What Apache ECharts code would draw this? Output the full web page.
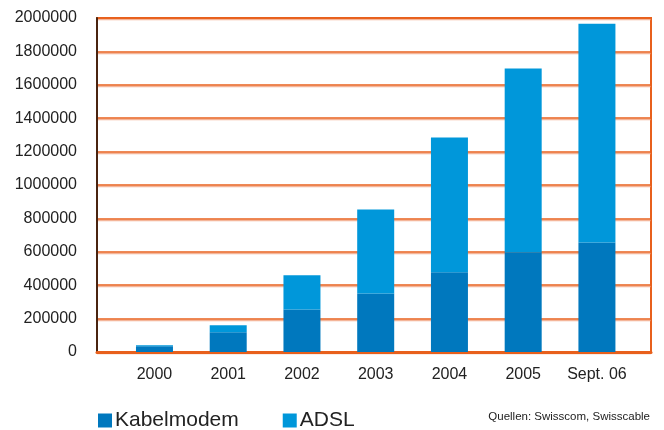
<!DOCTYPE html>
<html>
<head>
<meta charset="utf-8">
<script src="https://cdn.jsdelivr.net/npm/echarts@6/dist/echarts.min.js"></script>
<style>
html,body{margin:0;padding:0;background:#fff;}
#c{width:664px;height:430px;}
</style>
</head>
<body>
<div id="c"></div>
<script>
const categories = ['2000', '2001', '2002', '2003', '2004', '2005', 'Sept. 06'];
const kabelmodem = [35000, 118000, 255000, 351000, 477000, 598000, 656000];
const adsl = [5000, 42000, 204000, 502000, 807000, 1099000, 1310000];
const yTicks = { min: 0, max: 2000000, interval: 200000 };

const orange = '#E8601C';
const font = 'Liberation Sans';
const chart = echarts.init(document.getElementById('c'));
chart.setOption({
  animation: false,
  backgroundColor: '#fff',
  textStyle: { fontFamily: font },
  grid: [
    { left: 97, right: 13, top: 18, bottom: 78, show: true, borderColor: orange, borderWidth: 2, backgroundColor: 'transparent' },
    { left: 117.6, right: 30.2, top: 18, bottom: 78 }
  ],
  legend: {
    left: 93, top: 405,
    itemWidth: 14, itemHeight: 14, itemGap: 44,
    icon: 'rect',
    textStyle: { fontSize: 21, color: '#222', fontFamily: font, padding: [0, 0, 0, -2] },
    data: ['Kabelmodem', 'ADSL']
  },
  xAxis: [
    { gridIndex: 0, type: 'category', data: [''], axisLine: { show: true, lineStyle: { color: orange, width: 3 } },
      axisTick: { show: false }, axisLabel: { show: false }, splitLine: { show: false } },
    { gridIndex: 1, type: 'category', data: categories, axisLine: { show: false }, axisTick: { show: false },
      axisLabel: { interval: 0, fontSize: 16, color: '#222', margin: 15, fontFamily: font } }
  ],
  yAxis: [
    { gridIndex: 0, type: 'value', min: yTicks.min, max: yTicks.max, interval: yTicks.interval,
      axisLine: { show: true, lineStyle: { color: '#4a2410', width: 2 } }, axisTick: { show: false },
      axisLabel: { fontSize: 16, color: '#222', margin: 20, fontFamily: font, formatter: v => String(v) },
      splitLine: { show: true, lineStyle: { color: orange, width: 1.5, shadowColor: 'rgba(240,150,110,0.7)', shadowOffsetY: 1.5, shadowBlur: 0 } } },
    { gridIndex: 1, type: 'value', min: yTicks.min, max: yTicks.max, interval: yTicks.interval, show: false }
  ],
  series: [
    { name: 'Kabelmodem', type: 'bar', stack: 'total', xAxisIndex: 1, yAxisIndex: 1, data: kabelmodem,
      barWidth: 37, itemStyle: { color: '#0078BE' } },
    { name: 'ADSL', type: 'bar', stack: 'total', xAxisIndex: 1, yAxisIndex: 1, data: adsl,
      barWidth: 37, itemStyle: { color: '#0097DA' } }
  ],
  graphic: [
    { type: 'text', right: 14, top: 411, style: { text: 'Quellen: Swisscom, Swisscable', fontSize: 11.5, fill: '#222', fontFamily: font } }
  ]
});
</script>
</body>
</html>
